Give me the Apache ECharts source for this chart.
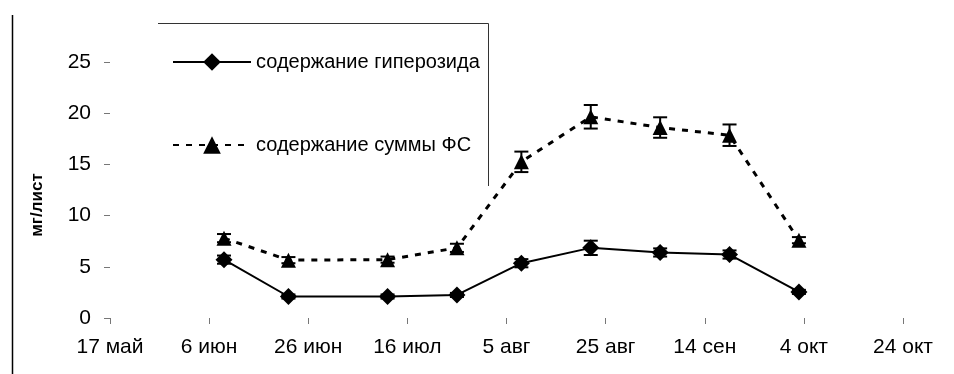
<!DOCTYPE html>
<html>
<head>
<meta charset="utf-8">
<script src="https://cdn.jsdelivr.net/npm/echarts@6/dist/echarts.min.js"></script>
<style>
  html, body { margin: 0; padding: 0; background: #fff; }
  #chart { width: 954px; height: 374px; }
</style>
</head>
<body>
<div id="chart"></div>
<script>
// Sampling dates (day.month) and measured contents, mg per leaf
const startDate = '17.05';
const sampleDates = ['09.06', '22.06', '12.07', '26.07', '08.08', '22.08', '05.09', '19.09', '03.10'];
const hyperoside = [5.7, 2.1, 2.1, 2.25, 5.35, 6.85, 6.4, 6.2, 2.55];
const hyperosideErr = [0.4, 0.2, 0.2, 0.2, 0.4, 0.7, 0.4, 0.4, 0.2];
const totalFS = [7.8, 5.65, 5.7, 6.85, 15.25, 19.65, 18.6, 17.85, 7.6];
const totalFSErr = [0.4, 0.3, 0.3, 0.4, 1.0, 1.15, 1.0, 1.05, 0.3];
const xTickLabels = ['17 май', '6 июн', '26 июн', '16 июл', '5 авг', '25 авг', '14 сен', '4 окт', '24 окт'];
const yTickLabels = ['0', '5', '10', '15', '20', '25'];
const seriesNames = ['содержание гиперозида', 'содержание суммы ФС'];

function dayOf(s) {
  const [d, m] = s.split('.').map(Number);
  return Date.UTC(2000, m - 1, d) / 86400000;
}
const days = sampleDates.map(s => dayOf(s) - dayOf(startDate));

const pairs = vals => vals.map((v, i) => [days[i], v]);
const triples = (vals, errs) => vals.map((v, i) => [days[i], v, errs[i]]);

function errorBar(params, api) {
  const x = api.value(0), y = api.value(1), e = api.value(2);
  const hi = api.coord([x, y + e]);
  const lo = api.coord([x, y - e]);
  const w = 7;
  const st = { stroke: '#000', lineWidth: 2 };
  return {
    type: 'group',
    children: [
      { type: 'line', shape: { x1: hi[0], y1: hi[1], x2: lo[0], y2: lo[1] }, style: st },
      { type: 'line', shape: { x1: hi[0] - w, y1: hi[1], x2: hi[0] + w, y2: hi[1] }, style: st },
      { type: 'line', shape: { x1: lo[0] - w, y1: lo[1], x2: lo[0] + w, y2: lo[1] }, style: st }
    ]
  };
}

const chart = echarts.init(document.getElementById('chart'), null, { renderer: 'canvas' });
const font = 'Liberation Sans, Arial, sans-serif';

chart.setOption({
  animation: false,
  backgroundColor: '#fff',
  textStyle: { fontFamily: font, color: '#000' },
  grid: { left: 110, right: 51, top: 62, bottom: 56 },
  legend: {
    orient: 'vertical',
    left: 172,
    top: 52,
    itemWidth: 78,
    itemHeight: 22,
    itemGap: 63,
    padding: 0,
    data: seriesNames,
    textStyle: { fontFamily: font, fontSize: 20, color: '#000' }
  },
  xAxis: {
    type: 'value',
    min: 0,
    max: 160,
    interval: 20,
    axisLine: { show: false },
    splitLine: { show: false },
    axisTick: { show: true, length: 6, lineStyle: { color: '#777', width: 1 } },
    axisLabel: {
      margin: 19,
      fontSize: 21,
      fontFamily: font,
      color: '#000',
      formatter: v => xTickLabels[Math.round(v / 20)]
    }
  },
  yAxis: {
    type: 'value',
    min: 0,
    max: 25,
    interval: 5,
    name: 'мг/лист',
    nameLocation: 'middle',
    nameGap: 64,
    nameTextStyle: { fontFamily: font, fontSize: 17, fontWeight: 'bold', color: '#000', padding: [0, 30, 0, 0] },
    axisLine: { show: false },
    splitLine: { show: false },
    axisTick: { show: true, length: 6, lineStyle: { color: '#777', width: 1 } },
    axisLabel: {
      margin: 19,
      fontSize: 21,
      fontFamily: font,
      color: '#000',
      formatter: v => yTickLabels[Math.round(v / 5)]
    }
  },
  graphic: [
    { type: 'line', shape: { x1: 12.5, y1: 15, x2: 12.5, y2: 374 }, style: { stroke: '#000', lineWidth: 1.5 } },
    { type: 'polyline', shape: { points: [[158, 23.5], [488.5, 23.5], [488.5, 186]] }, style: { stroke: '#333', lineWidth: 1, fill: null } }
  ],
  series: [
    {
      type: 'custom',
      name: 'err1',
      renderItem: errorBar,
      data: triples(hyperoside, hyperosideErr),
      z: 1
    },
    {
      type: 'custom',
      name: 'err2',
      renderItem: errorBar,
      data: triples(totalFS, totalFSErr),
      z: 1
    },
    {
      type: 'line',
      name: seriesNames[0],
      data: pairs(hyperoside),
      symbol: 'diamond',
      symbolSize: 17,
      itemStyle: { color: '#000' },
      lineStyle: { color: '#000', width: 2 },
      z: 3
    },
    {
      type: 'line',
      name: seriesNames[1],
      data: pairs(totalFS),
      symbol: 'triangle',
      symbolSize: 15,
      itemStyle: { color: '#000' },
      lineStyle: { color: '#000', width: 3, type: [6, 7] },
      z: 3
    }
  ]
});
</script>
</body>
</html>
